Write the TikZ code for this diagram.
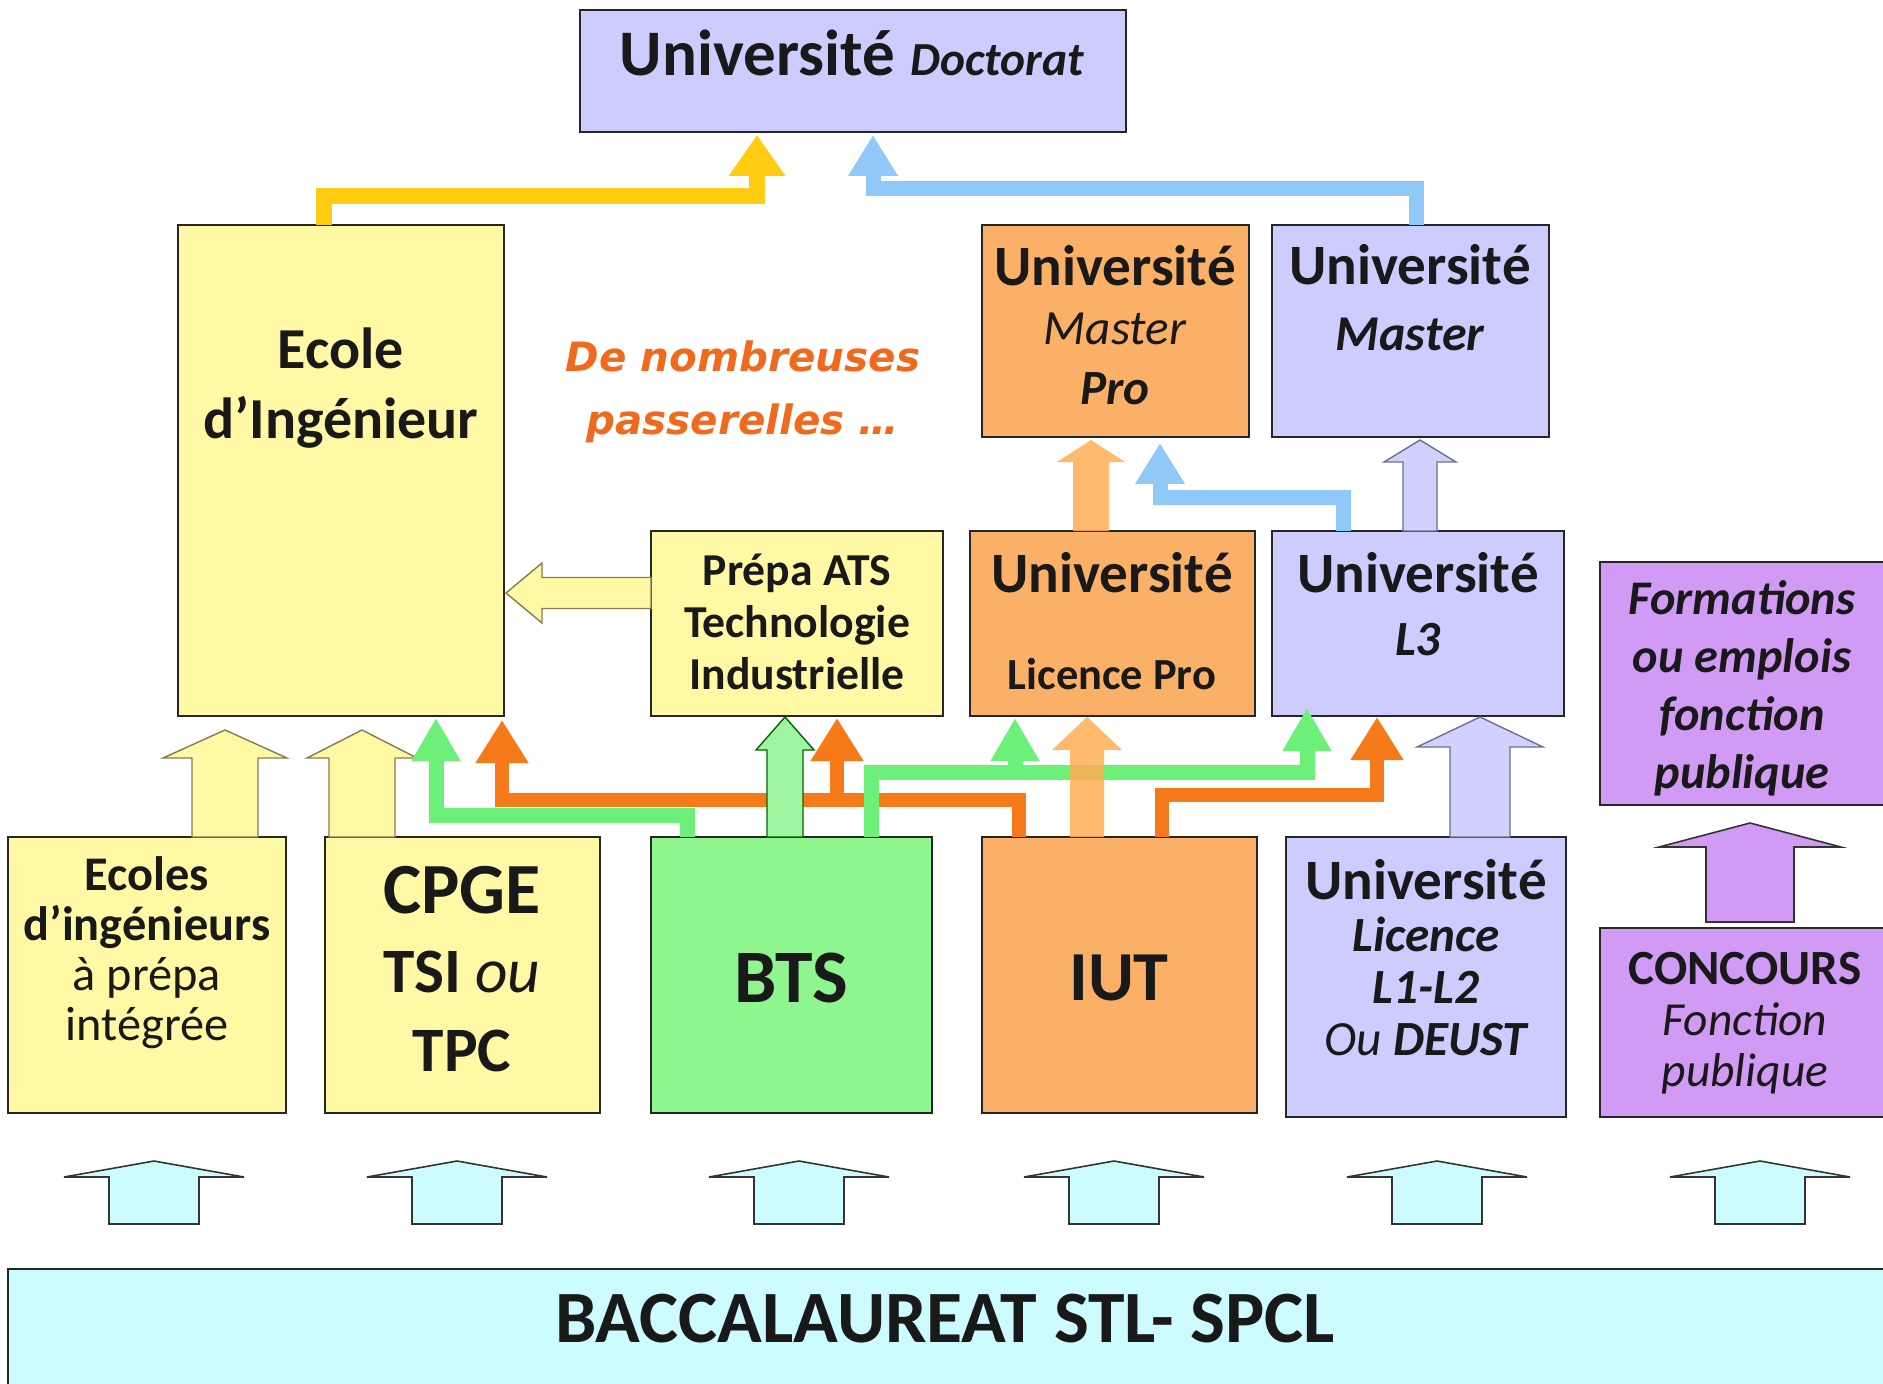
\documentclass[tikz,border=0pt]{standalone}
\usepackage{fontspec}
\setmainfont{Carlito}
\newfontfamily\passfont{DejaVu Sans}
\usetikzlibrary{arrows.meta,calc}
\definecolor{cyel}{HTML}{FFF9A6}
\definecolor{clav}{HTML}{CCCCFF}
\definecolor{cora}{HTML}{FBB068}
\definecolor{cgrn}{HTML}{8FF58F}
\definecolor{cpur}{HTML}{D09AF5}
\definecolor{ccya}{HTML}{CCFCFF}
\definecolor{lorange}{HTML}{F77A1A}
\definecolor{lgreen}{HTML}{6CF07A}
\definecolor{lblue}{HTML}{90C8F8}
\definecolor{lgold}{HTML}{FFCC11}
\definecolor{worange}{HTML}{FFAE55}
\definecolor{txtor}{HTML}{F06A1E}
\newcommand\fs[1]{\fontsize{#1}{#1}\selectfont}
% block arrow pointing up: #1 style, #2 bottom point, #3 tip point, #4 head half width, #5 shaft half width, #6 head length
\newcommand\blkup[6]{\draw[#1] let \p1=#2, \p2=#3 in
  ({\x1-#5},\y1) -- ({\x1-#5},{\y2-#6}) -- ({\x1-#4},{\y2-#6}) -- (\x2,\y2)
  -- ({\x1+#4},{\y2-#6}) -- ({\x1+#5},{\y2-#6}) -- ({\x1+#5},\y1) -- cycle;}
\begin{document}
\begin{tikzpicture}[x=0.02cm,y=-0.02cm,
  bx/.style 2 args={draw=black!85, line width=1.1pt, minimum width=#1*0.02cm,
     minimum height=#2*0.02cm, inner sep=0pt, outer sep=0pt},
  tx/.style={align=center, inner sep=0pt, text=black!90},
  goldln/.style={draw=lgold, line width=0.32cm, -{Triangle[length=0.82cm,width=1.08cm]}},
  blueln/.style={draw=lblue, line width=0.3cm, -{Triangle[length=0.82cm,width=0.94cm]}},
  greenln/.style={draw=lgreen, line width=0.3cm, -{Triangle[length=0.86cm,width=0.92cm]}},
  orln/.style={draw=lorange, line width=0.28cm, -{Triangle[length=0.86cm,width=1.0cm]}},
  yarr/.style={draw=black!70!yellow!60!brown, line width=0.8pt, fill=cyel},
  lavarr/.style={draw=black!45!clav, line width=0.8pt, fill=clav!90!white},
  cyarr/.style={draw=black!80, line width=0.9pt, fill=ccya},
  purarr/.style={draw=black!80, line width=0.9pt, fill=cpur},
  grarr/.style={draw=green!40!black, line width=0.8pt, fill=cgrn!85!white},
  orarr/.style={draw=none, fill=worange, fill opacity=0.85},
]
\clip (0,0) rectangle (1883,1383);
\fill[white] (0,0) rectangle (1883,1383);

% ---------- boxes ----------
\node[bx={546}{122}, fill=clav] (doc) at (853,71) {};
\node[bx={326}{491}, fill=cyel] (ecole) at (341,470.5) {};
\node[bx={267}{212}, fill=cora] (mpro) at (1115.5,331) {};
\node[bx={277}{212}, fill=clav] (master) at (1410.5,331) {};
\node[bx={292}{185}, fill=cyel] (prepa) at (797,623.5) {};
\node[bx={285}{185}, fill=cora] (licpro) at (1112.5,623.5) {};
\node[bx={292}{185}, fill=clav] (l3) at (1418,623.5) {};
\node[bx={290}{243}, fill=cpur] (form) at (1745,683.5) {};
\node[bx={278}{276}, fill=cyel] (ecoles) at (147,975) {};
\node[bx={275}{276}, fill=cyel] (cpge) at (462.5,975) {};
\node[bx={281}{276}, fill=cgrn] (bts) at (791.5,975) {};
\node[bx={275}{276}, fill=cora] (iut) at (1119.5,975) {};
\node[bx={280}{280}, fill=clav] (l12) at (1426,977) {};
\node[bx={290}{189}, fill=cpur] (conc) at (1745,1022.5) {};
\node[bx={1882}{121}, fill=ccya] (bac) at (949,1329.5) {};

% ---------- top connectors ----------
\draw[goldln] ($(ecole.north west)+(146,0)$) |- (757,196) -- ($(doc.south west)+(177,3)$);
\draw[blueln] ($(master.north west)+(144,0)$) |- (873,188) -- ($(doc.south west)+(293,3)$);

% ---------- middle connectors ----------
\blkup{orarr}{($(licpro.north west)+(121,0)$)}{($(mpro.south west)+(109,3)$)}{0.68cm}{0.36cm}{0.44cm}
\draw[blueln] ($(l3.north west)+(71,0)$) |- (1160,497) -- ($(mpro.south west)+(178,6)$);
\blkup{lavarr}{($(l3.north west)+(148,0)$)}{($(master.south west)+(148,3)$)}{0.72cm}{0.34cm}{0.44cm}

% Prepa -> Ecole (left arrow)
\draw[yarr] let \p1=($(prepa.north west)+(0,62)$), \p2=($(ecole.north east)+(2,368)$) in
  (\x1,{\y1+0.31cm}) -- ({\x2+0.72cm},{\y1+0.31cm}) -- ({\x2+0.72cm},{\y1+0.6cm}) -- (\x2,\y2)
  -- ({\x2+0.72cm},{\y1-0.6cm}) -- ({\x2+0.72cm},{\y1-0.31cm}) -- (\x1,{\y1-0.31cm}) -- cycle;

% ---------- lower connectors ----------
\blkup{yarr}{($(ecoles.north west)+(217,0)$)}{($(ecole.south west)+(47,14)$)}{1.24cm}{0.66cm}{0.56cm}
\blkup{yarr}{($(cpge.north west)+(37,0)$)}{($(ecole.south west)+(184,14)$)}{1.1cm}{0.66cm}{0.56cm}

\draw[orln] ($(iut.north west)+(37,0)$) |- (502,800) -- ($(ecole.south west)+(324,4)$);
\coordinate (o1j) at (837,800);
\draw[orln] (o1j) -- ($(prepa.south west)+(186,2)$);
\draw[greenln] ($(bts.north west)+(36,0)$) |- (436,815) -- ($(ecole.south west)+(258,2)$);
\draw[orln] ($(iut.north west)+(180,0)$) |- (1377,795) -- ($(l3.south west)+(105,1)$);
\draw[greenln] ($(bts.north west)+(220,0)$) |- (1307,772) -- ($(l3.south west)+(35,-8)$);
\coordinate (g2j) at (1015,772);
\draw[greenln] (g2j) -- ($(licpro.south west)+(45,2)$);
\blkup{grarr}{($(bts.north west)+(134,0)$)}{($(prepa.south west)+(134,1)$)}{0.58cm}{0.36cm}{0.66cm}
\blkup{orarr}{($(iut.north west)+(105,0)$)}{($(licpro.south west)+(117,1)$)}{0.7cm}{0.34cm}{0.66cm}
\blkup{lavarr}{($(l12.north west)+(194,0)$)}{($(l3.south west)+(208,1)$)}{1.26cm}{0.6cm}{0.6cm}
\blkup{purarr}{($(conc.north west)+(150,-6)$)}{($(form.south west)+(150,18)$)}{1.82cm}{0.88cm}{0.48cm}

% ---------- arrows from the baccalaureat ----------
\foreach \cx in {146,449,791,1106,1429,1752}{
  \blkup{cyarr}{($(bac.north west)+(\cx,-45)$)}{($(bac.north west)+(\cx,-108)$)}{1.8cm}{0.9cm}{0.32cm}
}

% ---------- texts ----------
\node[tx] (doc-t) at (852,53) {{\fs{37}\bfseries Université}\hspace{9pt}{\fs{27}\bfseries\itshape Doctorat}};
\node[tx, font=\fontsize{33}{40}\selectfont\bfseries] (ecole-t) at (341,388) {Ecole\\d’Ingénieur};
\node[tx, font=\fontsize{28}{34}\selectfont] (mpro-t) at (1115,325)
  {{\fs{32.5}\bfseries Université}\\{\itshape Master}\\{\bfseries\itshape Pro}};
\node[tx, font=\fontsize{28.5}{37.5}\selectfont] (master-t) at (1410,298)
  {{\fs{32.5}\bfseries Université}\\{\bfseries\itshape Master}};
\node[tx, font=\fontsize{26}{29.6}\selectfont\bfseries] (prepa-t) at (797,622)
  {Prépa ATS\\Technologie\\Industrielle};
\node[tx, font=\fontsize{25.3}{55}\selectfont] (licpro-t) at (1112,621)
  {{\fs{32.5}\bfseries Université}\\{\bfseries Licence Pro}};
\node[tx, font=\fontsize{28}{36}\selectfont] (l3-t) at (1418,604)
  {{\fs{32.5}\bfseries Université}\\{\bfseries\itshape L3}};
\node[tx, font=\fontsize{27.5}{33}\selectfont\bfseries\itshape] (form-t) at (1742,688)
  {Formations\\ou emplois\\fonction\\publique};
\node[tx, font=\fontsize{27.5}{28.5}\selectfont] (ecoles-t) at (147,953)
  {{\bfseries Ecoles}\\{\bfseries d’ingénieurs}\\à prépa\\intégrée};
\node[tx, font=\fontsize{36}{45}\selectfont] (cpge-t) at (462,969)
  {{\fs{41}\bfseries CPGE}\\{\bfseries TSI} {\itshape ou}\\{\bfseries TPC}};
\node[tx, font=\fs{43}\bfseries] (bts-t) at (791,978) {BTS};
\node[tx, font=\fs{40}\bfseries] (iut-t) at (1119,978) {IUT};
\node[tx, font=\fontsize{28}{29.6}\selectfont] (l12-t) at (1426,958)
  {{\fs{32.5}\bfseries Université}\\{\bfseries\itshape Licence}\\{\bfseries\itshape L1-L2}\\{\itshape Ou} {\bfseries\itshape DEUST}};
\node[tx, font=\fontsize{27}{29}\selectfont] (conc-t) at (1745,1023)
  {{\fs{28}\bfseries CONCOURS}\\{\itshape Fonction}\\{\itshape publique}};
\node[tx, font=\fs{42}\bfseries] (bac-t) at (945,1319) {BACCALAUREAT STL- SPCL};
\node[tx, text=txtor, font=\passfont\fontsize{23}{36}\selectfont\bfseries\itshape] (pass-t) at (743,392)
  {De nombreuses\\passerelles …};
\end{tikzpicture}
\end{document}
